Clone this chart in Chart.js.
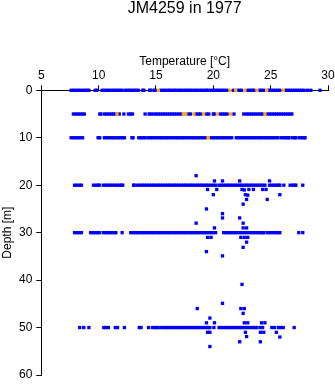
<!DOCTYPE html>
<html><head><meta charset="utf-8">
<script src="https://cdn.jsdelivr.net/npm/chart.js@4.4.1/dist/chart.umd.min.js"></script>
<style>html,body{margin:0;padding:0;background:#fff;}canvas{display:block;}</style>
</head><body>
<canvas id="c" width="335" height="384"></canvas>
<script>
const chartTitle = 'JM4259 in 1977';
const xTitle = 'Temperature [°C]';
const yTitle = 'Depth [m]';
const xTicks = [5, 10, 15, 20, 25, 30];
const yTicks = [0, 10, 20, 30, 40, 50, 60];

// Temperatures observed at standard depths (blue)
const temp0m = [7.6,7.8,8.0,8.2,8.4,8.6,8.8,9.0,9.15,9.7,9.85,
  10.3,10.5,10.7,10.9,11.1,11.3,11.5,11.7,11.9,12.05,
  12.35,12.5,12.7,12.9,13.1,13.3,13.45,13.85,13.95,14.45,14.55,14.85,14.95,
  15.4,15.6,15.8,16.0,16.2,16.4,16.6,16.8,17.0,17.2,17.4,17.6,17.8,18.0,18.2,18.4,18.6,18.8,19.0,19.2,19.4,19.55,
  19.8,20.0,20.2,20.4,20.6,20.8,21.0,21.2,21.75,22.1,22.3,22.45,
  23.0,23.2,23.4,23.55,24.05,24.2,24.4,24.8,25.0,25.2,25.4,25.6,25.8,
  26.3,26.5,26.7,26.9,27.1,27.3,27.5,27.7,27.9,28.2,28.5,29.3];
const temp5m = [7.8,8.0,8.2,8.4,8.6,8.75,10.1,10.2,10.5,10.7,10.9,11.1,11.3,11.45,11.8,12.2,
  12.6,12.8,12.95,14.05,14.4,14.55,
  14.8,15.0,15.2,15.4,15.6,15.8,16.0,16.2,16.4,16.6,16.8,17.0,17.2,17.8,18.0,
  18.5,18.7,18.9,19.4,19.6,20.0,20.1,20.6,20.8,21.0,21.2,21.8,22.65,
  22.9,23.1,23.3,23.5,23.7,23.9,24.1,24.3,24.7,24.9,25.1,25.3,25.5,25.7,25.9,26.1,26.3,26.5,26.7,26.85];
const temp10m = [7.6,7.8,8.0,8.2,8.4,8.6,9.95,10.1,
  10.5,10.7,10.9,11.1,11.3,11.5,11.7,11.9,12.1,12.25,12.9,13.0,13.5,13.7,13.9,14.05,
  14.3,14.5,14.7,14.9,15.1,15.3,15.5,15.7,15.9,16.1,16.3,16.5,16.7,16.9,17.1,17.3,17.5,17.7,17.9,
  18.1,18.3,18.5,18.7,18.9,19.1,19.3,19.8,20.0,20.2,20.4,20.6,20.8,21.0,21.2,21.4,21.6,
  22.0,22.2,22.4,22.6,22.8,23.0,23.2,23.4,23.6,23.8,24.0,24.2,24.4,24.6,24.8,25.0,25.2,25.4,25.6,
  25.9,26.1,26.3,26.5,26.6,26.9,27.1,27.2,27.5,27.7,27.9,28.0];
const temp20m = [7.9,8.1,8.3,8.5,9.55,9.75,9.95,10.05,
  10.4,10.6,10.8,11.0,11.2,11.4,11.6,11.8,12.0,12.1,13.05,13.1,
  13.4,13.6,13.8,14.0,14.2,14.4,14.6,14.8,15.0,15.2,15.4,15.6,15.8,16.0,16.2,16.4,16.6,16.8,17.0,
  17.2,17.4,17.6,17.8,18.0,18.2,18.4,18.6,18.8,19.0,19.2,19.4,19.6,19.8,20.0,20.2,
  20.5,20.7,20.9,21.1,21.3,21.5,21.7,21.9,22.1,22.3,22.5,22.7,22.9,23.1,23.3,23.5,23.7,23.9,24.1,24.3,24.5,
  24.9,25.1,25.3,25.5,25.7,25.8,26.15,26.7,26.9,27.1,27.2,27.8];
const temp30m = [7.9,8.1,8.3,8.5,9.3,9.5,9.7,9.9,10.05,10.4,10.6,10.8,11.0,11.2,11.4,11.5,12.05,
  12.8,13.0,13.2,13.4,13.6,13.8,14.0,14.2,14.4,14.6,14.8,15.0,15.2,15.4,15.6,15.8,16.0,16.2,16.4,
  16.6,16.8,17.0,17.2,17.4,17.6,17.8,18.0,18.2,18.4,18.6,18.8,19.0,19.2,19.4,19.6,19.8,20.0,20.2,
  20.9,21.1,21.3,21.5,21.7,21.9,22.1,22.3,22.5,22.7,22.9,23.1,23.3,23.5,23.7,23.9,24.1,24.3,24.4,
  24.7,24.9,25.1,25.3,25.5,25.7,25.8,27.45,27.8];
const temp50m = [8.35,8.7,9.15,10.45,10.6,10.85,11.45,11.65,12.25,13.55,13.7,14.35,
  14.7,14.9,15.1,15.2,15.5,15.7,15.9,16.1,16.3,16.5,16.7,16.9,17.1,17.3,17.5,17.7,17.9,
  18.1,18.3,18.5,18.7,18.9,19.1,19.3,19.5,19.7,20.05,
  20.5,20.7,20.9,21.1,21.3,21.5,21.7,21.9,22.1,22.3,22.5,22.7,22.9,23.1,23.3,23.5,23.7,23.8,
  24.1,24.3,25.1,25.35,25.7,25.9,26.1,27.05];

// Highlighted observations (orange)
const orange0m = [15.2,21.45,21.95,22.75,23.8,24.65,26.1];
const orange5m = [11.6,17.4,17.6,18.3,19.15,20.35,21.5,24.5];
const orange10m = [19.55];

// Scattered observations at other depths (blue)
const scatterTemp = [18.5,20.1,20.8,22.3,24.9,
  19.5,20.3,22.5,22.7,23.1,23.5,24.3,24.6,
  20.0,22.8,23.0,25.8,22.9,24.7,22.6,19.4,20.8,20.8,22.3,18.5,22.6,20.1,22.6,22.9,
  19.5,19.8,22.4,22.7,23.0,22.9,22.6,19.4,20.8,22.5,20.8,
  18.6,22.4,22.7,22.6,19.7,19.4,20.1,22.7,23.0,24.2,24.5,
  19.5,19.7,22.8,24.1,24.4,25.5,22.9,25.8,22.3,24.1,19.7];
const scatterDepth = [18.0,19.1,19.1,19.1,19.1,
  20.9,20.9,20.9,21.0,20.9,20.9,20.9,20.9,
  22.0,22.0,22.1,22.0,23.0,23.0,24.0,25.0,26.0,26.9,26.9,28.0,28.0,29.0,29.0,29.0,
  31.0,31.0,31.0,31.0,31.0,32.0,33.1,34.0,34.9,40.9,44.9,
  46.0,46.0,46.0,47.0,48.0,49.0,49.0,49.0,49.0,49.0,49.0,
  51.0,51.0,51.0,51.0,51.0,51.0,51.9,52.0,53.0,53.0,54.0];

function atDepth(temps, d) { return temps.map(t => ({x: t, y: d})); }

const bluePoints = [].concat(
  atDepth(temp0m, 0), atDepth(temp5m, 5), atDepth(temp10m, 10),
  atDepth(temp20m, 20), atDepth(temp30m, 30), atDepth(temp50m, 50),
  scatterTemp.map((t, i) => ({x: t, y: scatterDepth[i]}))
);
const orangePoints = [].concat(
  atDepth(orange0m, 0), atDepth(orange5m, 5), atDepth(orange10m, 10)
);

const FONT = '"Liberation Sans", Arial, sans-serif';

const titlePlugin = {
  id: 'plotTitle',
  afterDraw(chart) {
    const {ctx, chartArea} = chart;
    ctx.save();
    ctx.font = '16px ' + FONT;
    ctx.fillStyle = '#000';
    ctx.textAlign = 'center';
    ctx.textBaseline = 'alphabetic';
    ctx.fillText(chartTitle, (chartArea.left + chartArea.right) / 2, 13);
    ctx.restore();
  }
};

const pointOpts = {pointStyle: 'rect', pointRadius: 2.35, borderWidth: 0, pointHoverRadius: 2.35, showLine: false, clip: false};

new Chart(document.getElementById('c'), {
  type: 'scatter',
  data: {
    datasets: [
      Object.assign({label: 'highlight', data: orangePoints, backgroundColor: '#FFA500', borderColor: '#FFA500'}, pointOpts),
      Object.assign({label: 'temperature', data: bluePoints, backgroundColor: '#0000FF', borderColor: '#0000FF'}, pointOpts)
    ]
  },
  options: {
    responsive: false,
    animation: false,
    events: [],
    layout: {padding: {top: 54, right: 7, bottom: 9, left: 0}},
    plugins: {legend: {display: false}, tooltip: {enabled: false}, title: {display: false}},
    scales: {
      x: {
        type: 'linear', position: 'top', min: xTicks[0], max: xTicks[xTicks.length - 1],
        afterBuildTicks: s => { s.ticks = xTicks.map(v => ({value: v})); },
        afterFit: s => { s.height = 36.3; s.paddingLeft = 0; s.paddingRight = 0; },
        ticks: {color: '#000', font: {size: 12, family: FONT}, padding: 2, maxRotation: 0, autoSkip: false},
        grid: {drawOnChartArea: false, color: '#000', tickLength: 5, tickWidth: 1},
        border: {color: '#000', width: 1},
        title: {display: true, text: xTitle, color: '#000', font: {size: 12, family: FONT}, padding: 0}
      },
      y: {
        type: 'linear', reverse: true, min: yTicks[0], max: yTicks[yTicks.length - 1],
        afterBuildTicks: s => { s.ticks = yTicks.map(v => ({value: v})); },
        afterFit: s => { s.width = 41.3; s.paddingTop = 0; s.paddingBottom = 0; },
        ticks: {color: '#000', font: {size: 12, family: FONT}, padding: 4, autoSkip: false},
        grid: {drawOnChartArea: false, color: '#000', tickLength: 5, tickWidth: 1},
        border: {color: '#000', width: 1},
        title: {display: true, text: yTitle, color: '#000', font: {size: 12, family: FONT}, padding: 0}
      }
    }
  },
  plugins: [titlePlugin]
});
</script>
</body></html>
